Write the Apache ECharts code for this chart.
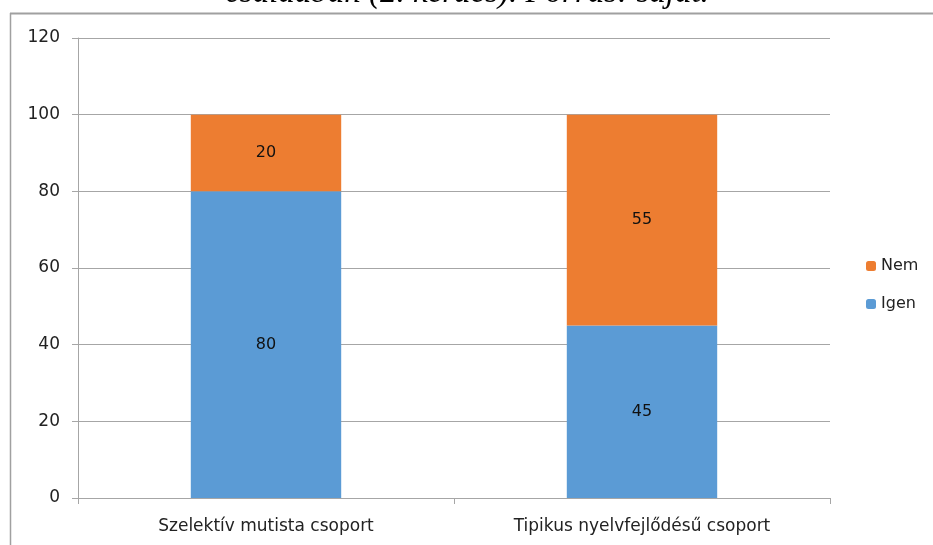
<!DOCTYPE html>
<html>
<head>
<meta charset="utf-8">
<script src="https://cdn.jsdelivr.net/npm/echarts@6/dist/echarts.min.js"></script>
<style>html,body{margin:0;padding:0;background:#fff}#c{width:933px;height:545px}</style>
</head>
<body>
<div id="c"></div>
<script>
const categories = ['Szelektív mutista csoport', 'Tipikus nyelvfejlődésű csoport'];
const igen = [80, 45];
const nem = [20, 55];
const yTicks = [0, 20, 40, 60, 80, 100, 120];
const captionText = 'családban (2. kérdés). Forrás: saját.';

const chart = echarts.init(document.getElementById('c'));
chart.setOption({
  animation: false,
  backgroundColor: '#fff',
  graphic: [
    { type: 'text', x: 467, y: 10, style: { text: captionText, font: 'italic 33px "Liberation Serif"', fill: '#000', align: 'center', verticalAlign: 'bottom' } },
    { type: 'rect', shape: { x: 0, y: 10, width: 933, height: 3 }, style: { fill: '#fff' } },
    { type: 'line', shape: { x1: 10, y1: 13.5, x2: 933, y2: 13.5 }, style: { stroke: '#a0a0a0', lineWidth: 2 } },
    { type: 'line', shape: { x1: 10.5, y1: 13, x2: 10.5, y2: 545 }, style: { stroke: '#a0a0a0', lineWidth: 1.5 } }
  ],
  grid: { left: 78, right: 103, top: 38, bottom: 47 },
  legend: {
    orient: 'vertical', left: 861, top: 253, itemGap: 22, itemWidth: 10, itemHeight: 10,
    data: ['Nem', 'Igen'],
    textStyle: { fontFamily: 'DejaVu Sans', fontSize: 16, color: '#222' }
  },
  xAxis: {
    type: 'category', data: categories,
    axisLine: { lineStyle: { color: '#a6a6a6', width: 1 } },
    axisTick: { show: true, length: 6, lineStyle: { color: '#a6a6a6' } },
    axisLabel: { fontFamily: 'DejaVu Sans', fontSize: 17, color: '#222', margin: 20 }
  },
  yAxis: {
    type: 'value', min: 0, max: 120, interval: 20,
    axisLine: { show: true, lineStyle: { color: '#a6a6a6' } },
    axisTick: { show: true, length: 6, lineStyle: { color: '#a6a6a6' } },
    splitLine: { lineStyle: { color: '#a6a6a6' } },
    axisLabel: { fontFamily: 'DejaVu Sans', fontSize: 17, color: '#222', margin: 18,
      formatter: v => yTicks.includes(v) ? String(v) : '' }
  },
  series: [
    { name: 'Igen', type: 'bar', stack: 't', data: igen, barWidth: '40%', itemStyle: { color: '#5B9BD5' },
      label: { show: true, position: 'inside', fontFamily: 'DejaVu Sans', fontSize: 16, color: '#111' } },
    { name: 'Nem', type: 'bar', stack: 't', data: nem, barWidth: '40%', itemStyle: { color: '#ED7D31' },
      label: { show: true, position: 'inside', fontFamily: 'DejaVu Sans', fontSize: 16, color: '#111' } }
  ]
});
</script>
</body>
</html>
